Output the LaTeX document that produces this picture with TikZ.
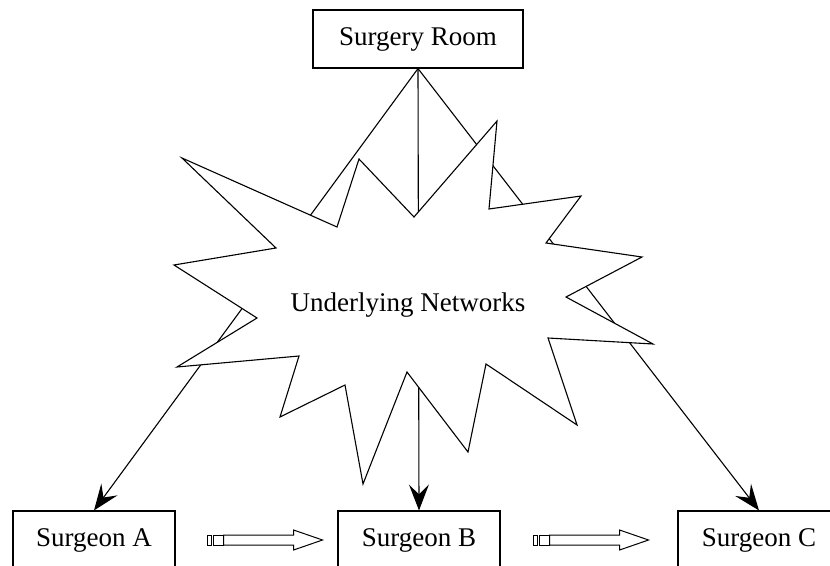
\documentclass[tikz,border=0pt]{standalone}
\usepackage{fontspec}
\setmainfont{Liberation Serif}
\usetikzlibrary{arrows.meta,calc}
\tikzset{
  roombox/.style={draw, line width=1.1pt, fill=white, minimum width=210pt,
                  minimum height=58pt, inner sep=0pt, font=\fontsize{27}{32}\selectfont},
  docbox/.style={roombox, minimum width=162pt},
  link/.style={-{Stealth[length=26pt,width=20pt,inset=10pt]}, line width=1.1pt},
  burst/.style={draw, fill=white, line width=1.1pt, line join=miter},
  handoff/.pic={
    \draw[line width=1pt, fill=white] (0,-5) rectangle (4,5);
    \draw[line width=1pt, fill=white] (6,-5) rectangle (16,5);
    \draw[line width=1pt, fill=white] (16,-5) -- (86,-5) -- (86,-10) -- (115,0)
      -- (86,10) -- (86,5) -- (16,5) -- cycle;
  }}
\begin{document}
\begin{tikzpicture}[x=1pt, y=-1pt]
  \useasboundingbox (0,0) rectangle (830,565);
  \node[roombox] (room) at (418,39) {Surgery Room};
  \node[docbox] (sa) at (94,540) {Surgeon A};
  \node[docbox] (sb) at (419,540) {Surgeon B};
  \node[docbox] (sc) at (759,540) {Surgeon C};
  \draw[link] (room.south) -- (sa.north);
  \draw[link] (room.south) -- (sb.north);
  \draw[link] (room.south) -- (sc.north);
  % the burst sits over the links
  \draw[burst] (182,158) -- (337,227) -- (359,159) -- (414,217) -- (497,121)
    -- (489,209) -- (581,196) -- (546,243) -- (642,257) -- (566,297)
    -- (653,344) -- (548,338) -- (577,425) -- (486,364) -- (468,452)
    -- (407,372) -- (363,484) -- (345,385) -- (280,417) -- (299,356)
    -- (177,367) -- (257,318) -- (174,265) -- (276,248) -- cycle;
  \node[font=\fontsize{27}{32}\selectfont] (net) at (408,305) {Underlying Networks};
  \pic at ($(sa.east)+(32,0)$) {handoff};
  \pic at ($(sb.east)+(33,0)$) {handoff};
\end{tikzpicture}
\end{document}
